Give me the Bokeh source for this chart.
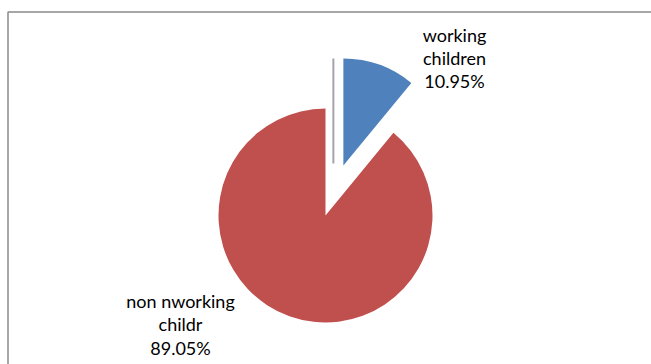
import numpy as np
from bokeh.plotting import figure
from bokeh.models import Range1d
from bokeh.core.properties import value
from bokeh.embed import file_html
from bokeh.resources import INLINE

# ---- data ----
categories = ["working children", "non nworking childr"]
label_lines = [["working", "children"], ["non nworking", "childr"]]
percents = [10.95, 89.05]
colors = ["#4F81BD", "#C0504D"]

W, H = 651, 364
p = figure(width=W, height=H, output_backend="svg", toolbar_location=None,
           x_range=Range1d(0, W), y_range=Range1d(0, H), min_border=0)
p.axis.visible = False
p.grid.visible = False
p.outline_line_color = None
p.background_fill_color = "white"
p.border_fill_color = "white"

# chart frame
p.quad(left=[7.5], right=[W + 20], top=[H - 11.5], bottom=[-20],
       fill_color=None, line_color="#8a8a8a", line_width=1.5)

cx, cy, r = 325, H - 215, 107
explode = 53
vals = np.array(percents)
ang = 2 * np.pi * vals / vals.sum()
starts = np.pi / 2 - np.concatenate([[0], np.cumsum(ang)[:-1]])
ends = starts - ang

# exploded slice (working children)
mid0 = (starts[0] + ends[0]) / 2
bx = cx + explode * np.cos(mid0)
by = cy + explode * np.sin(mid0)

# thin grey edge next to the exploded slice
p.segment(x0=[bx - 10], y0=[by + 2], x1=[bx - 10], y1=[by + r],
          line_color="#a7a2ad", line_width=2)

p.wedge(x=[bx], y=[by], radius=r, start_angle=[starts[0]], end_angle=[ends[0]],
        direction="clock", fill_color=colors[0], line_color=None)
p.wedge(x=[cx], y=[cy], radius=r, start_angle=[starts[1]], end_angle=[ends[1]],
        direction="clock", fill_color=colors[1], line_color=None)

# labels
label_pos = [(454, [34, 57, 80]), (180, [300, 323, 347])]
for i in range(len(categories)):
    lx, ys = label_pos[i]
    lines = label_lines[i] + ["%.2f%%" % percents[i]]
    p.text(x=[lx] * len(lines), y=[H - y for y in ys], text=lines,
           text_align="center", text_baseline="middle",
           text_font=value("Lato"), text_font_size="18px", text_color="#000000")

open("out.html", "w").write(file_html(p, INLINE))
